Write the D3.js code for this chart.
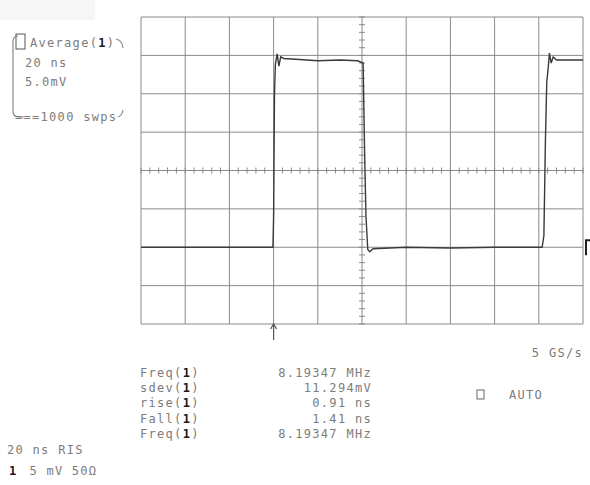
<!DOCTYPE html>
<html>
<head>
<meta charset="utf-8">
<title>Scope capture</title>
<script src="https://d3js.org/d3.v7.min.js"></script>
<style>
  body { margin: 0; background: #fff; }
  text { font-family: "DejaVu Sans Mono", monospace; font-size: 12px; fill: #7c7c7c; letter-spacing: 1.3px; }
  .ch { fill: #1a1a1a; font-weight: bold; }
</style>
</head>
<body>
<script>
// waveform, time in ns (0 = screen centre), level in mV
var traceTime = [-100, -40.3, -40, -39.6, -39.2, -38.4, -37.6, -36.8, -35.4, -30, -20, -10, -2, 0.5, 1.2, 1.8, 2.6, 3.5, 5, 20, 40, 60, 81.5, 82.3, 83, 83.6, 84.3, 84.8, 85.6, 86.5, 88, 100];
var traceMv   = [-10, -10, -6, 10, 13.8, 15.2, 13.6, 14.8, 14.6, 14.5, 14.3, 14.4, 14.3, 14.0, 2, -6, -10.3, -10.6, -10.2, -10, -10.1, -10, -10, -8.5, 4, 11.5, 13.5, 15.3, 14, 14.8, 14.4, 14.4];

var measNames  = ["Freq", "sdev", "rise", "Fall", "Freq"];
var measValues = ["8.19347 MHz", "11.294mV", "0.91 ns", "1.41 ns", "8.19347 MHz"];
var infoLines  = ["20 ns", "5.0mV"];

var width = 590, height = 485;
var svg = d3.select("body").append("svg").attr("width", width).attr("height", height);

var x = d3.scaleLinear().domain([-100, 100]).range([141, 583]);
var y = d3.scaleLinear().domain([-20, 20]).range([324, 17]);

// faint header band top-left
svg.append("rect").attr("x", 0).attr("y", 0).attr("width", 95).attr("height", 20).attr("fill", "#f6f6f6");

// grid
var grid = svg.append("g").attr("stroke", "#8a8a8a").attr("stroke-width", 1);
grid.selectAll(".vx").data(x.ticks(10)).enter().append("line")
  .attr("x1", d => x(d)).attr("x2", d => x(d)).attr("y1", y(20)).attr("y2", y(-20));
grid.selectAll(".hy").data(y.ticks(8)).enter().append("line")
  .attr("y1", d => y(d)).attr("y2", d => y(d)).attr("x1", x(-100)).attr("x2", x(100));

// minor ticks on centre axes
grid.selectAll(".mx").data(d3.range(-100, 100.1, 4)).enter().append("line")
  .attr("x1", d => x(d)).attr("x2", d => x(d)).attr("y1", y(0) - 3).attr("y2", y(0) + 3);
grid.selectAll(".my").data(d3.range(-20, 20.1, 1)).enter().append("line")
  .attr("y1", d => y(d)).attr("y2", d => y(d)).attr("x1", x(0) - 3).attr("x2", x(0) + 3);

// trace
var line = d3.line().x(d => x(d[0])).y(d => y(d[1]));
svg.append("path").datum(d3.zip(traceTime, traceMv))
  .attr("d", line).attr("fill", "none").attr("stroke", "#3a3a3a").attr("stroke-width", 1.4);

// trigger arrow & level marker
var tx = x(-40);
svg.append("path").attr("d", "M" + tx + ",340 V324 M" + (tx - 3) + ",329 L" + tx + ",324 L" + (tx + 3) + ",329")
  .attr("fill", "none").attr("stroke", "#555").attr("stroke-width", 1.2);
svg.append("path").attr("d", "M586," + (y(-10) + 8) + " V" + (y(-10) - 7) + " H590")
  .attr("fill", "none").attr("stroke", "#222").attr("stroke-width", 2);

// info box top-left
svg.append("path").attr("d", "M18,36 Q13,36 13,42 V111 Q13,117 19,117 H24 M116,39 Q122,40 123,48 M118,117 Q122,116 123,110")
  .attr("fill", "none").attr("stroke", "#8a8a8a").attr("stroke-width", 1.2);
svg.append("rect").attr("x", 16).attr("y", 34).attr("width", 9).attr("height", 15).attr("fill", "none").attr("stroke", "#555");
var head = svg.append("text").attr("x", 30).attr("y", 47);
head.append("tspan").text("Average(");
head.append("tspan").attr("class", "ch").text("1");
head.append("tspan").text(")");
svg.selectAll(".info").data(infoLines).enter().append("text")
  .attr("x", 25).attr("y", (d, i) => 67 + i * 19).text(d => d);
svg.append("text").attr("x", 15).attr("y", 121).text("===1000 swps");

// measurements
var rows = svg.append("g");
measNames.forEach(function (m, i) {
  var t = rows.append("text").attr("x", 140).attr("y", 377 + i * 15.2);
  t.append("tspan").text(m + "(");
  t.append("tspan").attr("class", "ch").text("1");
  t.append("tspan").text(")");
  rows.append("text").attr("x", 372).attr("y", 377 + i * 15.2).attr("text-anchor", "end").text(measValues[i]);
});

svg.append("text").attr("x", 583).attr("y", 357).attr("text-anchor", "end").text("5 GS/s");
svg.append("rect").attr("x", 477).attr("y", 390).attr("width", 7).attr("height", 9).attr("fill", "none").attr("stroke", "#666");
svg.append("text").attr("x", 509).attr("y", 399).text("AUTO");

svg.append("text").attr("x", 7).attr("y", 454).text("20 ns RIS");
var ch = svg.append("text").attr("x", 9).attr("y", 475);
ch.append("tspan").attr("class", "ch").text("1");
ch.append("tspan").attr("dx", 12).text("5 mV");
ch.append("tspan").attr("dx", 8).text("50Ω");
</script>
</body>
</html>
